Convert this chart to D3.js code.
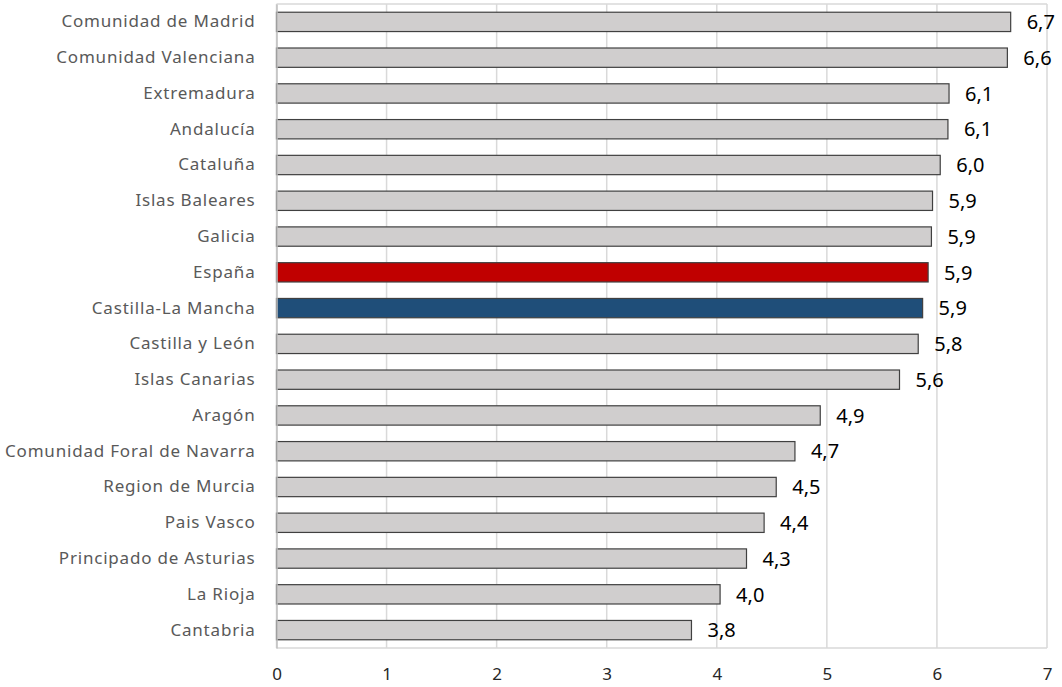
<!DOCTYPE html>
<meta charset="utf-8">
<style>
body { margin: 0; background: #fff; }
.cat text { font-family: "Noto Sans", sans-serif; font-size: 17px; letter-spacing: 0.8px; fill: #595959; }
.xaxis text { font-family: "Noto Sans", sans-serif; font-size: 17px; fill: #262626; }
.val { font-family: "Noto Sans", sans-serif; font-size: 20px; fill: #000; }
.grid line { stroke: #d9d9d9; stroke-width: 1.5; }
</style>
<body>
<script src="https://d3js.org/d3.v7.min.js"></script>
<script>

var regions = ["Comunidad de Madrid", "Comunidad Valenciana", "Extremadura", "Andalucía", "Cataluña",
    "Islas Baleares", "Galicia", "España", "Castilla-La Mancha", "Castilla y León", "Islas Canarias",
    "Aragón", "Comunidad Foral de Navarra", "Region de Murcia", "Pais Vasco", "Principado de Asturias",
    "La Rioja", "Cantabria"];

var values = [6.67, 6.64, 6.11, 6.10, 6.03, 5.96, 5.95, 5.92, 5.87, 5.83, 5.66,
    4.94, 4.71, 4.54, 4.43, 4.27, 4.03, 3.77];

var labels = ["6,7", "6,6", "6,1", "6,1", "6,0", "5,9", "5,9", "5,9", "5,9", "5,8", "5,6",
    "4,9", "4,7", "4,5", "4,4", "4,3", "4,0", "3,8"];

var xTicks = [0, 1, 2, 3, 4, 5, 6, 7];

var highlight = {"España": "#c00000", "Castilla-La Mancha": "#1f4e79"};

var width = 1062, height = 687;
var plotL = 276.5, plotR = 1047, plotT = 4, plotB = 648;

var x = d3.scaleLinear().domain([0, 7]).range([plotL, plotR]);
var y = d3.scaleBand().domain(regions).range([plotT, plotB]).paddingInner(0.46).paddingOuter(0.23);

var svg = d3.select("body").append("svg")
    .attr("width", width)
    .attr("height", height);

// gridlines
svg.append("g")
    .attr("class", "grid")
    .selectAll("line")
    .data(xTicks)
    .enter().append("line")
    .attr("x1", d => x(d)).attr("x2", d => x(d))
    .attr("y1", plotT).attr("y2", plotB);

// plot border top / bottom
svg.append("line").attr("x1", plotL).attr("x2", plotR).attr("y1", plotT).attr("y2", plotT)
    .style("stroke", "#d9d9d9").style("stroke-width", 1.5);
svg.append("line").attr("x1", plotL).attr("x2", plotR).attr("y1", plotB).attr("y2", plotB)
    .style("stroke", "#d9d9d9").style("stroke-width", 1.5);

// bars
svg.append("g")
    .selectAll("rect")
    .data(regions)
    .enter().append("rect")
    .attr("x", x(0))
    .attr("y", d => y(d))
    .attr("width", (d, i) => x(values[i]) - x(0))
    .attr("height", y.bandwidth())
    .style("fill", d => highlight[d] || "#d0cece")
    .style("stroke", "#404040")
    .style("stroke-width", 1.2);

// value labels
svg.append("g")
    .selectAll("text")
    .data(regions)
    .enter().append("text")
    .attr("class", "val")
    .attr("x", (d, i) => x(values[i]) + 16)
    .attr("y", d => y(d) + y.bandwidth() / 2)
    .attr("dy", "0.36em")
    .text((d, i) => labels[i]);

// category axis
var yAxis = svg.append("g")
    .attr("class", "cat")
    .attr("transform", "translate(" + plotL + ",0)")
    .call(d3.axisLeft(y).tickSize(0).tickPadding(21));
yAxis.select(".domain").style("stroke", "#bfbfbf").style("stroke-width", 1.5);

// x axis labels
var xAxis = svg.append("g")
    .attr("class", "xaxis")
    .attr("transform", "translate(0," + plotB + ")")
    .call(d3.axisBottom(x).tickValues(xTicks).tickSize(0).tickPadding(20).tickFormat(d3.format("d")));
xAxis.select(".domain").remove();

</script>
</body>
